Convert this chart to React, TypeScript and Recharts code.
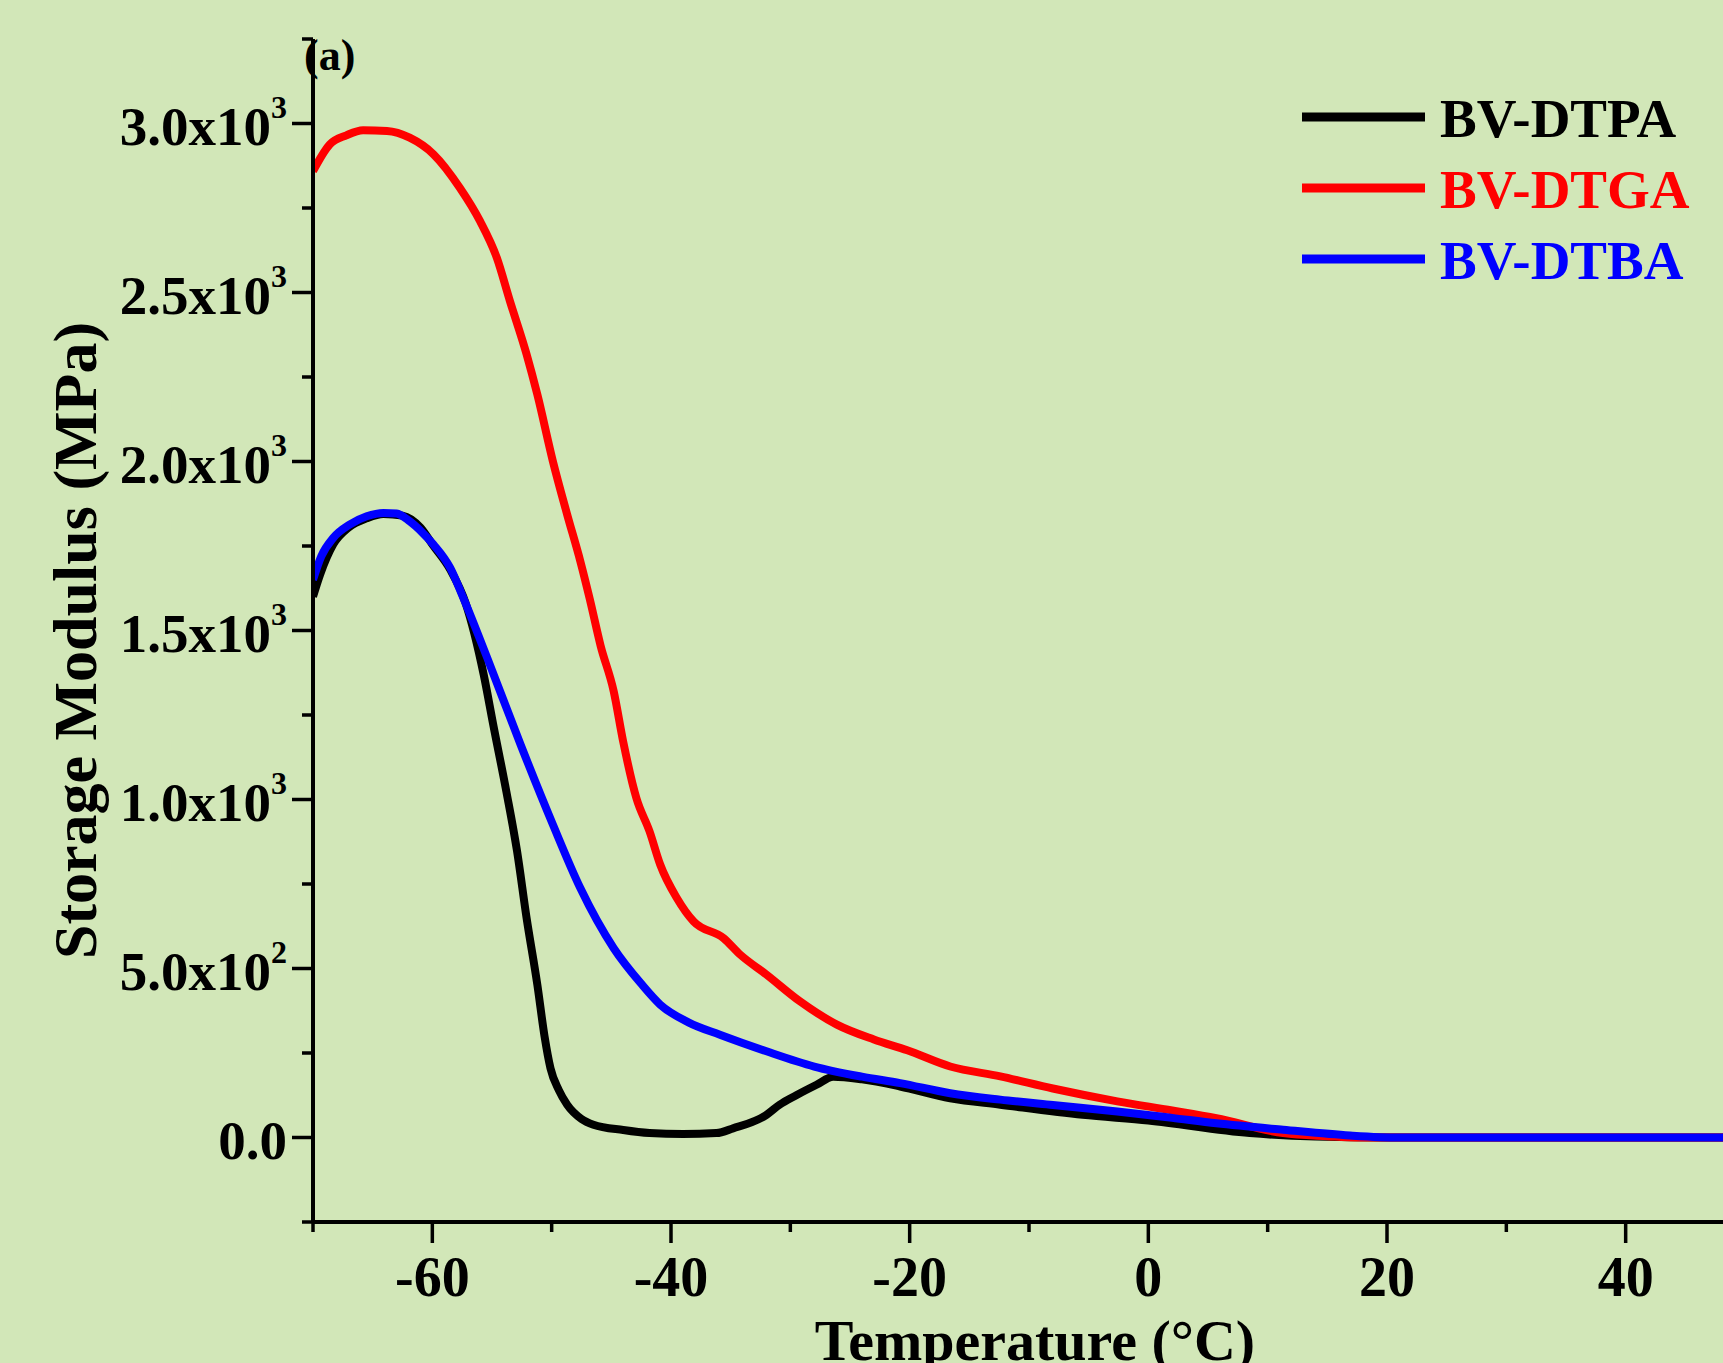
import React from 'react';
import { LineChart, Line, XAxis, YAxis, Label } from 'recharts';

// ---------- data ----------
const seriesNames = ['BV-DTPA', 'BV-DTGA', 'BV-DTBA'];
const seriesColors = ['#000000', '#ff0000', '#0000ff'];

const tempDTPA = [-70, -69.4, -68.3, -67, -65.5, -64.1, -62.5, -61, -59.9, -58.5, -57.2, -55.7, -54.9, -53.8, -52.9, -52.1, -51.2, -50.6, -50.1, -49.4, -48.7, -47.5, -46.5, -44, -41.8, -39, -36.2, -34.8, -32, -30.9, -29.5, -27.8, -26.4, -24, -20.8, -16.6, -12.4, -5.5, 0, 8.5, 14, 20, 30, 40, 50];
const modDTPA = [1600, 1666, 1755, 1805, 1832, 1845, 1840, 1805, 1750, 1680, 1580, 1370, 1222, 1024, 847, 649, 452, 300, 205, 140, 97, 55, 38, 22, 13, 10, 13, 27, 67, 97, 125, 156, 180, 172, 151, 116, 97, 67, 50, 13, 3, 0, 0, 0, 0];

const tempDTGA = [-70, -68.6, -67.2, -65.8, -63.8, -61.9, -59.9, -57.7, -56, -54.6, -53.5, -52.1, -51.2, -49.9, -48.7, -47.6, -46.8, -45.9, -44.8, -44, -42.9, -41.8, -40.9, -39.5, -38.1, -35.6, -34.2, -32, -29.2, -26.1, -23, -20.2, -16.6, -12.4, -8, -2.6, 2, 5.7, 11.3, 15, 17.5, 20, 30, 40, 50];
const modDTGA = [2859, 2938, 2965, 2980, 2978, 2958, 2909, 2810, 2711, 2603, 2475, 2317, 2198, 2001, 1843, 1705, 1592, 1455, 1320, 1170, 1004, 906, 807, 708, 639, 590, 541, 482, 403, 334, 290, 258, 210, 181, 145, 107, 80, 57, 13, 4, 0, 0, 0, 0, 0];

const tempDTBA = [-70, -69.3, -68.3, -66.9, -65.5, -64.1, -63, -61.9, -60.9, -59.9, -58.5, -57.4, -55.4, -52.6, -49.9, -47.6, -44.8, -42.5, -40.9, -38.5, -35.9, -32, -28, -24, -20.8, -16.6, -12.4, -8, -2.6, 2, 5.7, 11.3, 16.9, 21, 30, 40, 50];
const modDTBA = [1650, 1720, 1774, 1814, 1838, 1848, 1846, 1823, 1792, 1754, 1685, 1596, 1419, 1162, 926, 738, 560, 455, 393, 340, 304, 255, 210, 180, 161, 131, 112, 96, 77, 58, 42, 23, 6, 0, 0, 0, 0];

const xTicks = [-70, -60, -50, -40, -30, -20, -10, 0, 10, 20, 30, 40, 50];
const xLabelTicks = [-60, -40, -20, 0, 20, 40];
const yTicks = [-250, 0, 250, 500, 750, 1000, 1250, 1500, 1750, 2000, 2250, 2500, 2750, 3000, 3250];
const yLabelValues = [0, 500, 1000, 1500, 2000, 2500, 3000];
const yLabelText = ['0.0', '5.0x10', '1.0x10', '1.5x10', '2.0x10', '2.5x10', '3.0x10'];
const yLabelExp = ['', '2', '3', '3', '3', '3', '3'];

const xTitle = 'Temperature (°C)';
const yTitle = 'Storage Modulus (MPa)';
const panelTag = '(a)';

const build = (t: number[], v: number[]) => t.map((x, i) => ({ t: x, v: v[i] }));
const dataDTPA = build(tempDTPA, modDTPA);
const dataDTGA = build(tempDTGA, modDTGA);
const dataDTBA = build(tempDTBA, modDTBA);
const seriesData = [dataDTPA, dataDTGA, dataDTBA];

// ---------- styling ----------
const FONT = '"Liberation Serif", "Times New Roman", serif';
const BG = '#d2e7b8';

const YTick = (props: any) => {
  const { x, y, payload } = props;
  const v = payload.value;
  const idx = yLabelValues.indexOf(v);
  const major = idx >= 0;
  const len = major ? 21 : 11;
  return (
    <g>
      <line x1={x - len} x2={x} y1={y} y2={y} stroke="#000" strokeWidth={3.5} />
      {major && (
        <text x={x - 26} y={y + 21} textAnchor="end" fontFamily={FONT} fontWeight="bold" fontSize={55} fill="#000">
          {yLabelText[idx]}
          {yLabelExp[idx] ? (
            <tspan dy={-27} fontSize={32}>{yLabelExp[idx]}</tspan>
          ) : null}
        </text>
      )}
    </g>
  );
};

const XTick = (props: any) => {
  const { x, y, payload } = props;
  const v = payload.value;
  const major = xLabelTicks.indexOf(v) >= 0;
  const len = major ? 21 : 10;
  return (
    <g>
      <line x1={x} x2={x} y1={y} y2={y + len} stroke="#000" strokeWidth={3.5} />
      {major && (
        <text x={x} y={y + 74} textAnchor="middle" fontFamily={FONT} fontWeight="bold" fontSize={56} fill="#000">
          {String(v)}
        </text>
      )}
    </g>
  );
};

const XTitle = (props: any) => {
  const vb = props.viewBox || { x: 313, y: 1222, width: 1432, height: 141 };
  return (
    <text x={vb.x + vb.width / 2 + 6} y={vb.y + 138} textAnchor="middle" fontFamily={FONT} fontWeight="bold" fontSize={58} fill="#000">
      {xTitle}
    </text>
  );
};

const YTitle = (props: any) => {
  const vb = props.viewBox || { x: 0, y: 39, width: 313, height: 1183 };
  const cx = vb.x + 96;
  const cy = vb.y + vb.height / 2 + 10;
  return (
    <text x={cx} y={cy} transform={`rotate(-90, ${cx}, ${cy})`} textAnchor="middle" fontFamily={FONT} fontWeight="bold" fontSize={62} fill="#000">
      {yTitle}
    </text>
  );
};

const legendRows = [117, 188, 259];

export default function App() {
  return (
    <div style={{ position: 'absolute', left: 0, top: 0, width: 1723, height: 1363, overflow: 'hidden', background: BG }}>
      <LineChart width={1745} height={1363} margin={{ top: 39, right: 0, bottom: 0, left: 0 }}>
        <XAxis
          xAxisId="b"
          dataKey="t"
          type="number"
          domain={[-70, 50]}
          ticks={xTicks}
          interval={0}
          allowDataOverflow
          height={141}
          tickSize={0}
          tickMargin={0}
          tickLine={false}
          axisLine={{ stroke: '#000', strokeWidth: 4 }}
          tick={<XTick />}
        >
          <Label content={<XTitle />} />
        </XAxis>
        <XAxis
          xAxisId="top"
          orientation="top"
          dataKey="t"
          type="number"
          domain={[-70, 50]}
          height={0}
          tick={false}
          tickLine={false}
          axisLine={{ stroke: '#000', strokeWidth: 4 }}
        />
        <YAxis
          type="number"
          domain={[-250, 3250]}
          ticks={yTicks}
          interval={0}
          allowDataOverflow
          width={313}
          tickSize={0}
          tickMargin={0}
          tickLine={false}
          axisLine={{ stroke: '#000', strokeWidth: 4 }}
          tick={<YTick />}
        >
          <Label content={<YTitle />} />
        </YAxis>
        {seriesData.map((d, i) => (
          <Line
            key={seriesNames[i]}
            xAxisId="b"
            data={d}
            dataKey="v"
            name={seriesNames[i]}
            type="monotone"
            stroke={seriesColors[i]}
            strokeWidth={8}
            dot={false}
            activeDot={false}
            isAnimationActive={false}
          />
        ))}
      </LineChart>
      <svg width={1723} height={1363} style={{ position: 'absolute', left: 0, top: 0, pointerEvents: 'none' }}>
        <text x={304} y={70} fontFamily={FONT} fontWeight="bold" fontSize={44} fill="#000">{panelTag}</text>
        {seriesNames.map((n, i) => (
          <g key={n}>
            <line x1={1302} x2={1425} y1={legendRows[i]} y2={legendRows[i]} stroke={seriesColors[i]} strokeWidth={9} />
            <text x={1440} y={legendRows[i] + 20} fontFamily={FONT} fontWeight="bold" fontSize={55} fill={seriesColors[i]}>{n}</text>
          </g>
        ))}
      </svg>
    </div>
  );
}
